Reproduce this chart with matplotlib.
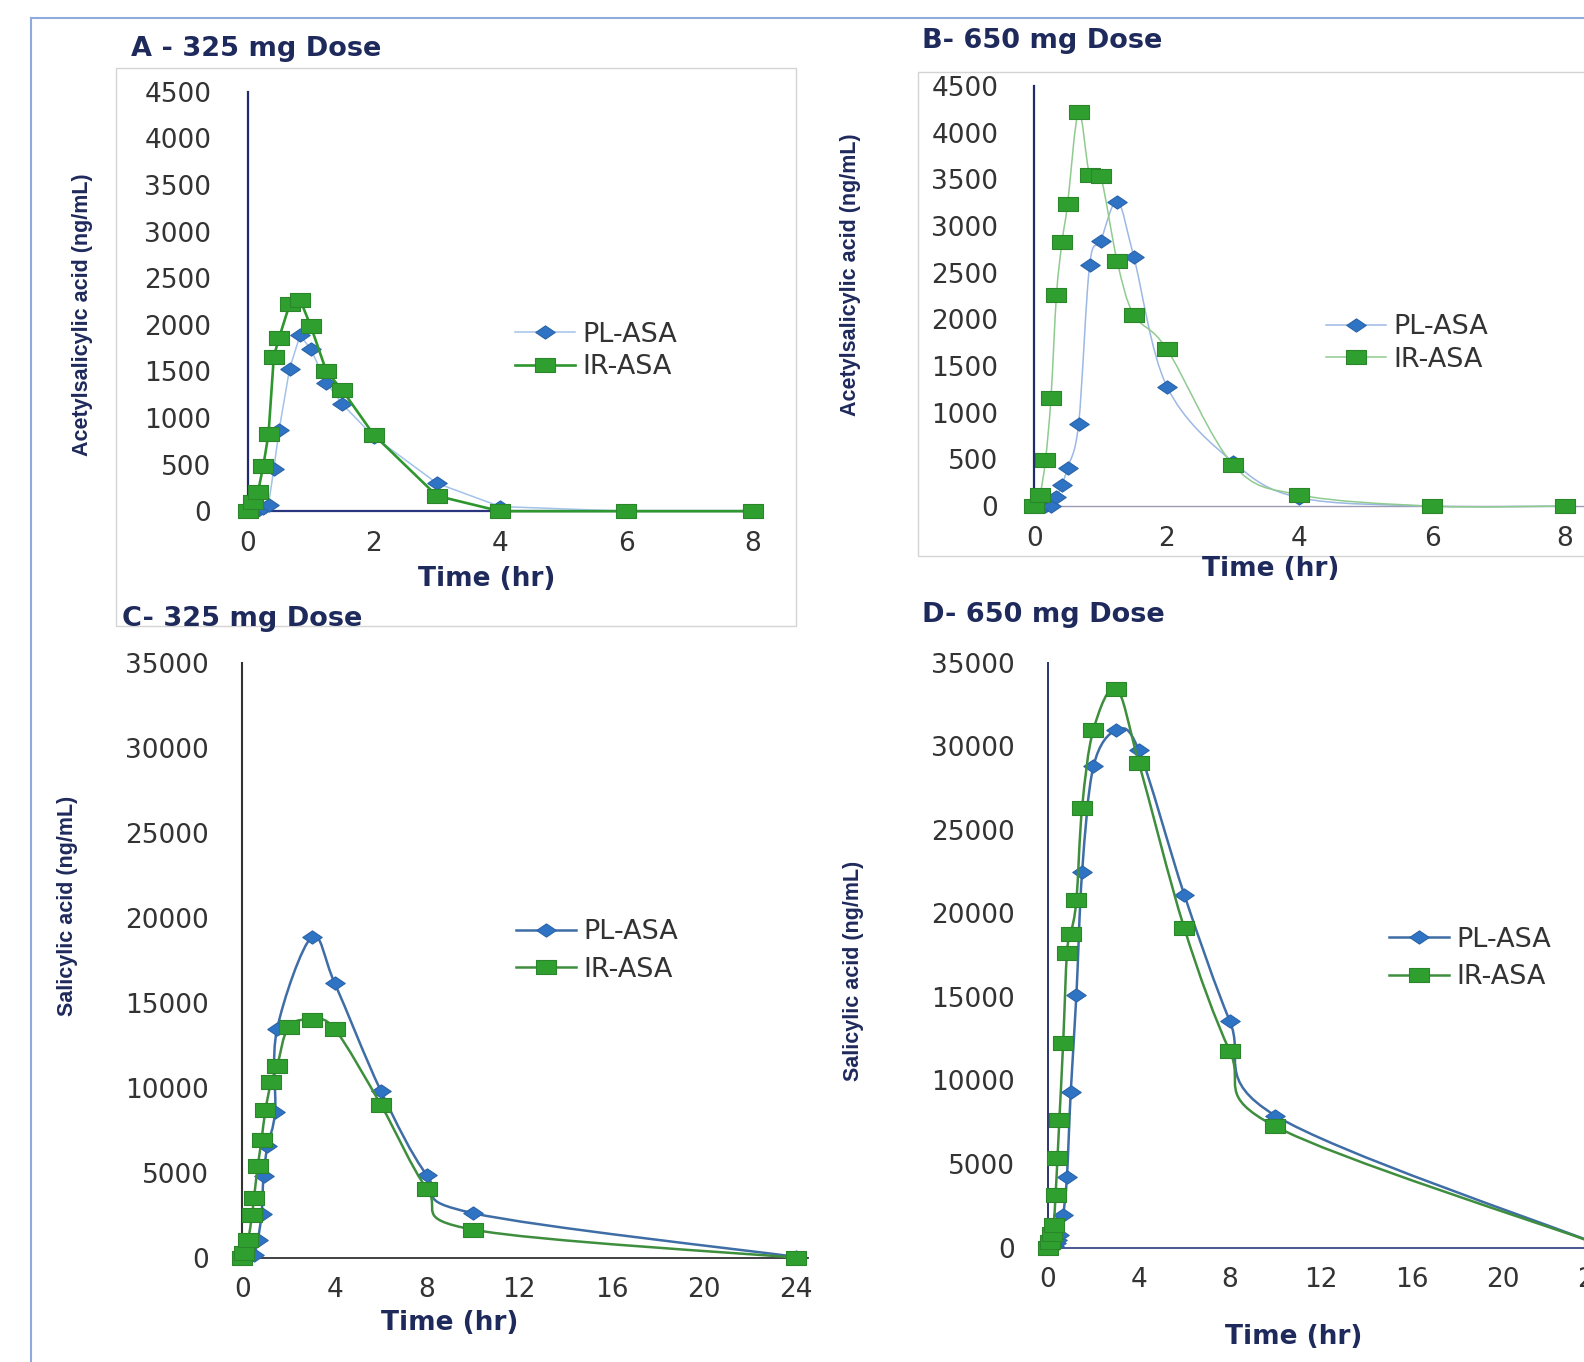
import numpy as np
import matplotlib
matplotlib.use("Agg")
import matplotlib.pyplot as plt
from matplotlib.path import Path
from matplotlib.patches import PathPatch, Rectangle
from matplotlib.lines import Line2D

# ---------------- data ----------------
# Panel A - acetylsalicylic acid, 325 mg
a_time = [0, 0.083, 0.167, 0.25, 0.333, 0.417, 0.5, 0.667, 0.833, 1, 1.25, 1.5, 2, 3, 4, 6, 8]
a_pl = [0, 0, 10, 30, 70, 455, 870, 1530, 1890, 1740, 1380, 1150, 800, 300, 50, 0, 0]
a_ir = [0, 100, 210, 485, 830, 1660, 1860, 2220, 2270, 1990, 1500, 1300, 820, 165, 0, 0, 0]

# Panel B - acetylsalicylic acid, 650 mg
b_time = [0, 0.083, 0.167, 0.25, 0.333, 0.417, 0.5, 0.667, 0.833, 1, 1.25, 1.5, 2, 3, 4, 6, 8]
b_pl = [0, 0, 0, 0, 100, 230, 410, 880, 2580, 2840, 3260, 2670, 1280, 470, 90, 0, 0]
b_ir = [0, 120, 490, 1160, 2260, 2830, 3230, 4220, 3550, 3530, 2620, 2050, 1680, 440, 120, 0, 0]

# Panel C - salicylic acid, 325 mg
c_time_pl = [0, 0.25, 0.5, 0.667, 0.833, 0.917, 1.083, 1.417, 1.5, 3, 4, 6, 8, 10, 24]
c_pl = [0, 50, 160, 1040, 2600, 4800, 6550, 8600, 13435, 18850, 16150, 9820, 4850, 2620, 50]
c_time_ir = [0, 0.083, 0.25, 0.417, 0.5, 0.667, 0.833, 1, 1.25, 1.5, 2, 3, 4, 6, 8, 10, 24]
c_ir = [0, 260, 1040, 2510, 3490, 5390, 6950, 8700, 10350, 11250, 13580, 14000, 13450, 9000, 4050, 1650, 0]

# Panel D - salicylic acid, 650 mg
d_time = [0, 0.083, 0.167, 0.25, 0.333, 0.417, 0.5, 0.667, 0.833, 1, 1.25, 1.5, 2, 3, 4, 6, 8, 10, 24]
d_pl = [0, 0, 50, 120, 250, 450, 750, 1950, 4250, 9300, 15130, 22460, 28800, 30950, 29750, 21100, 13550, 7900, 300]
d_ir = [0, 350, 800, 1350, 3150, 5340, 7650, 12250, 17650, 18750, 20800, 26320, 31000, 33450, 29000, 19100, 11750, 7250, 300]

series_labels = ["PL-ASA", "IR-ASA"]
ticks_ab_y = list(range(0, 4501, 500))
ticks_ab_x = [0, 2, 4, 6, 8]
ticks_cd_y = list(range(0, 35001, 5000))
ticks_cd_x = [0, 4, 8, 12, 16, 20, 24]
titles = ["A - 325 mg Dose", "B- 650 mg Dose", "C- 325 mg Dose", "D- 650 mg Dose"]
ylab_top = "Acetylsalicylic acid (ng/mL)"
ylab_bot = "Salicylic acid (ng/mL)"
xlab = "Time (hr)"

# ---------------- style ----------------
W, H, DPI = 1584, 1362, 100
NAVY = "#1F2A5C"
TICKC = "#333333"
BLUE_M = "#2F74C4"
BLUE_ME = "#2A63A8"
GREEN_M = "#2FA02F"
GREEN_ME = "#2B862B"
TICK_FS = 19
LEG_FS = 19.5

diamond = Path([(-1, 0), (0, 0.68), (1, 0), (0, -0.68), (-1, 0)],
               [Path.MOVETO, Path.LINETO, Path.LINETO, Path.LINETO, Path.CLOSEPOLY])
square = Path([(-1, -0.68), (1, -0.68), (1, 0.68), (-1, 0.68), (-1, -0.68)],
              [Path.MOVETO, Path.LINETO, Path.LINETO, Path.LINETO, Path.CLOSEPOLY])

fig = plt.figure(figsize=(W / DPI, H / DPI), dpi=DPI)
fig.patch.set_facecolor("white")


def fx(x):
    return x / W


def fy(y):
    return 1 - y / H


def make_axes(x0, xper, xmax, y0, ytop, ymax):
    ax = fig.add_axes([fx(x0), fy(y0), xmax * xper / W, (y0 - ytop) / H])
    ax.set_xlim(0, xmax)
    ax.set_ylim(0, ymax)
    ax.patch.set_alpha(0)
    for s in ("top", "right"):
        ax.spines[s].set_visible(False)
    return ax


def smooth_path(x, y):
    x = np.asarray(x, float)
    y = np.asarray(y, float)
    n = len(x)
    verts = [(x[0], y[0])]
    codes = [Path.MOVETO]
    for i in range(n - 1):
        i0 = max(i - 1, 0)
        i3 = min(i + 2, n - 1)
        c1 = (x[i] + (x[i + 1] - x[i0]) / 6.0, y[i] + (y[i + 1] - y[i0]) / 6.0)
        c2 = (x[i + 1] - (x[i3] - x[i]) / 6.0, y[i + 1] - (y[i3] - y[i]) / 6.0)
        verts += [c1, c2, (x[i + 1], y[i + 1])]
        codes += [Path.CURVE4] * 3
    return Path(verts, codes)


def draw_series(ax, t, v, lc, lw, marker, mfc, mec, smooth, z):
    if smooth:
        patch = PathPatch(smooth_path(t, v), fill=False, edgecolor=lc, lw=lw,
                          transform=ax.transData, clip_on=False, zorder=z)
        ax.add_patch(patch)
    else:
        ax.plot(t, v, color=lc, lw=lw, clip_on=False, zorder=z)
    ax.plot(t, v, linestyle="none", marker=marker, markersize=14,
            markerfacecolor=mfc, markeredgecolor=mec, markeredgewidth=0.8,
            clip_on=False, zorder=z + 0.5)


def style_axes(ax, xt, yt, spine_l, spine_b, ypad):
    ax.set_xticks(xt)
    ax.set_yticks(yt)
    ax.set_xticklabels([str(v) for v in xt])
    ax.set_yticklabels([str(v) for v in yt])
    ax.tick_params(axis="both", length=0, labelsize=TICK_FS, labelcolor=TICKC)
    ax.tick_params(axis="y", pad=ypad)
    ax.tick_params(axis="x", pad=14)
    ax.spines["left"].set_color(spine_l[0])
    ax.spines["left"].set_linewidth(spine_l[1])
    ax.spines["bottom"].set_color(spine_b[0])
    ax.spines["bottom"].set_linewidth(spine_b[1])
    for lab in ax.get_xticklabels() + ax.get_yticklabels():
        lab.set_family("DejaVu Sans")


def add_legend(ax, lcb, lwb, lcg, lwg, xl, yc, spacing):
    h = [Line2D([], [], color=lcb, lw=lwb, marker=diamond, markersize=14,
                markerfacecolor=BLUE_M, markeredgecolor=BLUE_ME, markeredgewidth=0.8),
         Line2D([], [], color=lcg, lw=lwg, marker=square, markersize=14,
                markerfacecolor=GREEN_M, markeredgecolor=GREEN_ME, markeredgewidth=0.8)]
    leg = ax.legend(h, series_labels, loc="center left",
                    bbox_to_anchor=(fx(xl), fy(yc)), bbox_transform=fig.transFigure,
                    frameon=False, borderpad=0, borderaxespad=0, handlelength=2.2,
                    handletextpad=0.3, labelspacing=spacing, numpoints=1,
                    prop={"family": "DejaVu Sans", "size": LEG_FS})
    for t in leg.get_texts():
        t.set_color(TICKC)


# ---------------- frames ----------------
fig.add_artist(Line2D([fx(30.5), fx(30.5)], [fy(17.5), 0], color="#8FAADC", lw=1.5))
fig.add_artist(Line2D([fx(30.5), 1], [fy(17.5), fy(17.5)], color="#8FAADC", lw=1.5))
fig.add_artist(Rectangle((fx(116), fy(626)), (796 - 116) / W, (626 - 68) / H,
                         transform=fig.transFigure, fill=False, edgecolor="#D4D4D4", lw=1))
fig.add_artist(Rectangle((fx(918), fy(556)), (1700 - 918) / W, (556 - 72) / H,
                         transform=fig.transFigure, fill=False, edgecolor="#D4D4D4", lw=1))

# ---------------- panel A ----------------
axA = make_axes(247.5, 63.14, 8.15, 511.2, 91.9, 4500)
style_axes(axA, ticks_ab_x, ticks_ab_y, ("#1F2B6E", 1.6), ("#2A3580", 1.6), 26)
draw_series(axA, a_time, a_pl, "#A3C2EA", 1.1, diamond, BLUE_M, BLUE_ME, False, 3)
draw_series(axA, a_time, a_ir, "#2E962E", 1.9, square, GREEN_M, GREEN_ME, False, 4)
add_legend(axA, "#A3C2EA", 1.1, "#2E962E", 1.9, 515, 351, 0.25)

# ---------------- panel B ----------------
axB = make_axes(1034.4, 66.27, 8.4, 506.1, 85.9, 4500)
style_axes(axB, ticks_ab_x, ticks_ab_y, ("#1F2B6E", 1.6), ("#9A9AB4", 1.0), 26)
draw_series(axB, b_time, b_pl, "#9DB8E4", 1.1, diamond, BLUE_M, BLUE_ME, True, 3)
draw_series(axB, b_time, b_ir, "#8FCB8F", 1.1, square, GREEN_M, GREEN_ME, True, 4)
add_legend(axB, "#9DB8E4", 1.1, "#8FCB8F", 1.1, 1326, 343.5, 0.25)

# ---------------- panel C ----------------
axC = make_axes(242.4, 23.07, 24.5, 1257.7, 662.7, 35000)
style_axes(axC, ticks_cd_x, ticks_cd_y, ("#333333", 1.5), ("#333333", 1.3), 24)
draw_series(axC, c_time_pl, c_pl, "#3F6DA6", 1.8, diamond, BLUE_M, BLUE_ME, True, 3)
draw_series(axC, c_time_ir, c_ir, "#3E8E3E", 1.8, square, GREEN_M, GREEN_ME, True, 4)
add_legend(axC, "#3F6DA6", 1.8, "#3E8E3E", 1.8, 516, 951, 0.42)

# ---------------- panel D ----------------
axD = make_axes(1048, 22.73, 24.6, 1247.6, 662.7, 35000)
style_axes(axD, ticks_cd_x, ticks_cd_y, ("#2A3570", 1.4), ("#3A4A8A", 1.3), 24)
draw_series(axD, d_time, d_pl, "#3F6DA6", 1.8, diamond, BLUE_M, BLUE_ME, True, 3)
draw_series(axD, d_time, d_ir, "#3E8E3E", 1.8, square, GREEN_M, GREEN_ME, True, 4)
add_legend(axD, "#3F6DA6", 1.8, "#3E8E3E", 1.8, 1389, 958.5, 0.42)

# ---------------- texts ----------------
title_pos = [(131, 49), (922, 40.5), (122, 619), (922, 615)]
for t, (x, y) in zip(titles, title_pos):
    fig.text(fx(x), fy(y), t, ha="left", va="center", fontsize=19.5,
             fontweight="bold", color=NAVY, family="DejaVu Sans")

for (x, y) in [(487, 579), (1271, 569), (450, 1323), (1294, 1337)]:
    fig.text(fx(x), fy(y), xlab, ha="center", va="center", fontsize=19,
             fontweight="bold", color=NAVY, family="DejaVu Sans")

ylab_pos = [(ylab_top, 83, 315), (ylab_top, 851, 275), (ylab_bot, 67, 906), (ylab_bot, 854, 971)]
for t, x, y in ylab_pos:
    fig.text(fx(x), fy(y), t, ha="center", va="center", rotation=90, fontsize=15.5,
             fontweight="bold", color=NAVY, family="Liberation Sans")

fig.savefig("out.png", dpi=DPI, facecolor="white")
